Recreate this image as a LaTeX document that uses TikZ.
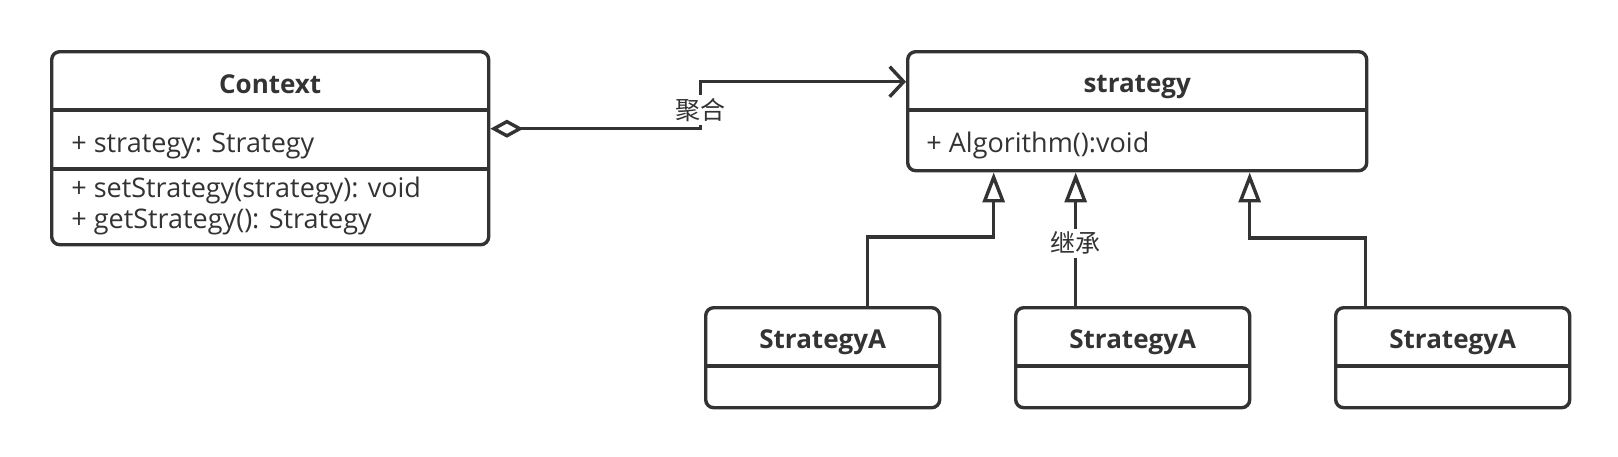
\documentclass[tikz,border=0pt]{standalone}
\usepackage{fontspec}
\setmainfont{Open Sans}
\newfontfamily\cjk{Noto Sans CJK SC}
\usepackage{xcolor}
\usetikzlibrary{arrows.meta}
\definecolor{ink}{HTML}{333333}
\tikzset{umlbox/.style={draw=ink, line width=1.7pt, rounded corners=4pt, inner sep=0pt, anchor=north west},
 divider/.style={draw=ink, line width=1.7pt},
 title/.style={font={\fontsize{13pt}{16pt}\selectfont\bfseries}, text=ink, anchor=base, inner sep=0pt},
 member/.style={font={\fontsize{13.5pt}{16pt}\selectfont}, text=ink, anchor=base west, inner sep=0pt},
 tag/.style={font={\cjk\fontsize{12.5pt}{14pt}\selectfont}, text=ink, fill=white, inner sep=1.5pt},
 aggr/.style={draw=ink, line width=1.7pt,
   {Diamond[fill=white,length=16.5pt,width=9pt]}-{Straight Barb[length=7pt,width=15pt]}},
 inherit/.style={draw=ink, line width=1.7pt, -{Triangle[open,fill=white,length=15pt,width=11pt]}},
 }

\begin{document}
\begin{tikzpicture}[x=0.5pt, y=-0.5pt]
        \useasboundingbox (0,0) rectangle (1618,456);

        \node[umlbox, minimum width=218.5pt, minimum height=96.5pt] (ctx) at (50,50) {};
        \draw[divider] ([yshift=-30pt]ctx.north west) -- ([yshift=-30pt]ctx.north east);
        \draw[divider] ([yshift=-59.5pt]ctx.north west) -- ([yshift=-59.5pt]ctx.north east);
        \node[title] (ctx-name) at ([yshift=-21.5pt]ctx.north) {Context};
        \node[member] (ctx-attr) at ([xshift=10.5pt, yshift=-51pt]ctx.north west) {+ strategy: Strategy};
        \node[member] (ctx-set) at ([xshift=10.5pt, yshift=-73.5pt]ctx.north west) {+ setStrategy(strategy): void};
        \node[member] (ctx-get) at ([xshift=10.5pt, yshift=-89pt]ctx.north west) {+ getStrategy(): Strategy};

        \node[umlbox, minimum width=229.5pt, minimum height=59.5pt] (strat) at (906,50) {};
        \draw[divider] ([yshift=-30pt]strat.north west) -- ([yshift=-30pt]strat.north east);
        \node[title] (strat-name) at ([yshift=-21pt]strat.north) {strategy};
        \node[member] (strat-op) at ([xshift=10pt, yshift=-51pt]strat.north west) {+ Algorithm():void};

        \foreach \x/\n in {704/sa, 1014/sb, 1334/sc} {
            \node[umlbox, minimum width=117pt, minimum height=50pt] (\n) at (\x,306) {};
            \draw[divider] ([yshift=-30pt]\n.north west) -- ([yshift=-30pt]\n.north east);
            \node[title] (\n-name) at ([yshift=-21pt]\n.north) {StrategyA};
        }

        \draw[aggr] ([yshift=9.75pt]ctx.east) -- ++(210,0) |- ([yshift=14.75pt]strat.west)
            node[tag, pos=0.2] (agg-tag) {聚合};

        \draw[inherit] ([xshift=22.5pt]sa.north) -- ++(0,-69) -| ([xshift=-71.75pt]strat.south);
        \draw[inherit] ([xshift=-28.5pt]sb.north) -- ([xshift=-30.75pt]strat.south)
            node[tag, pos=0.47] (inh-tag) {继承};
        \draw[inherit] ([xshift=-43.5pt]sc.north) -- ++(0,-68) -| ([xshift=56.25pt]strat.south);
    \end{tikzpicture}
\end{document}
